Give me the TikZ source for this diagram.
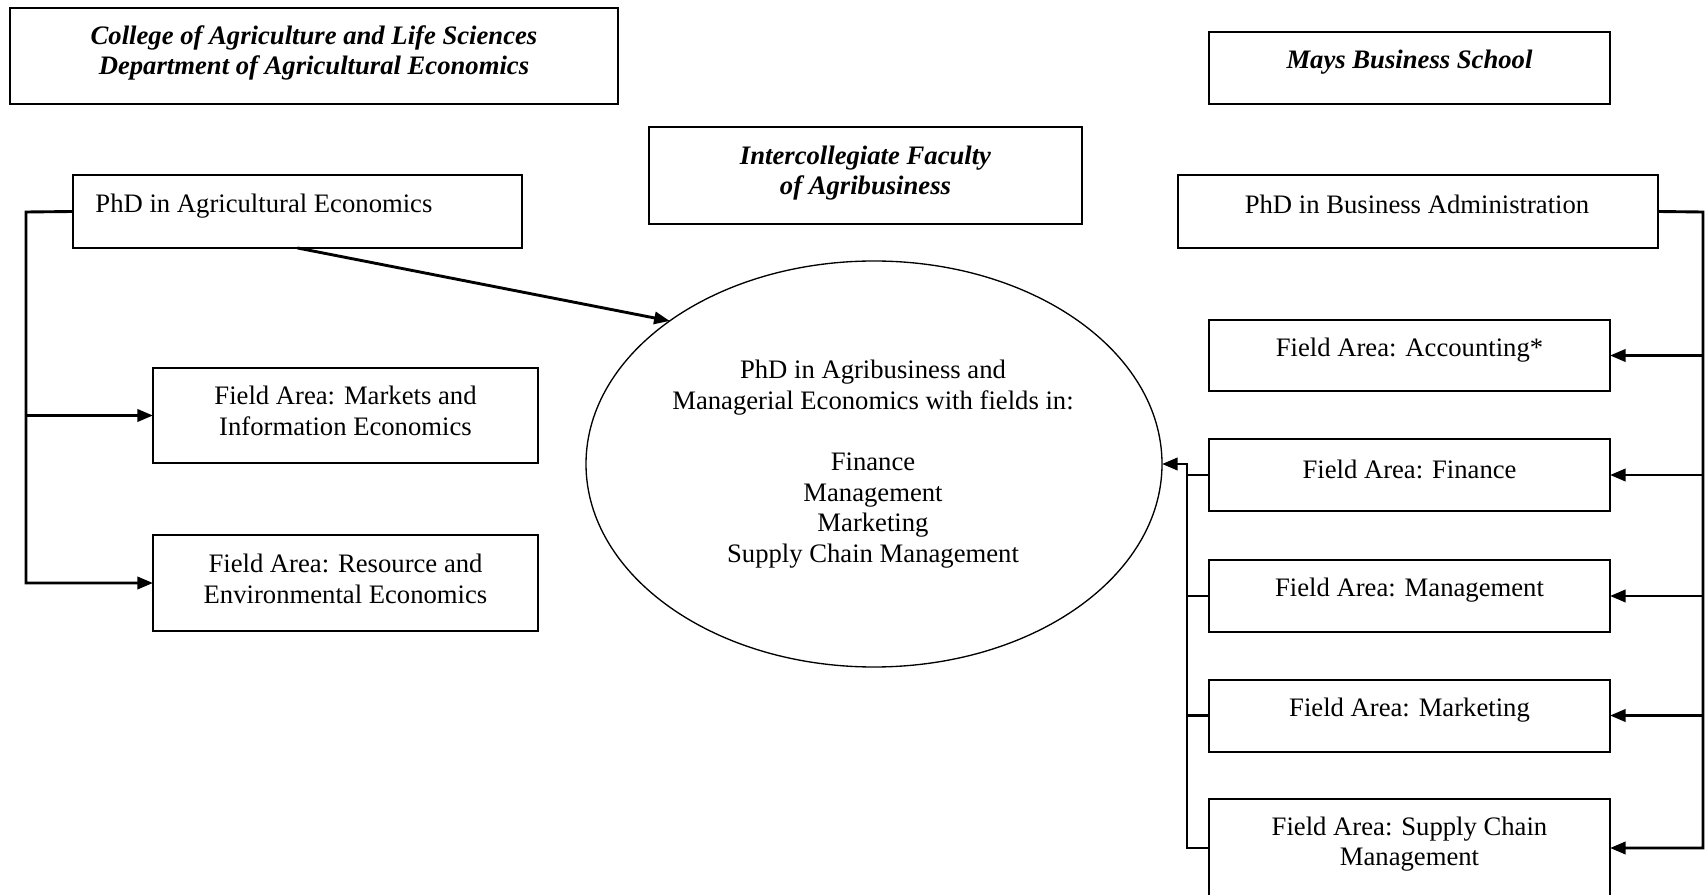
\documentclass[tikz,border=0pt]{standalone}
\usepackage{fontspec}
\setmainfont{Liberation Serif}
\usetikzlibrary{arrows.meta,shapes.geometric}
\tikzset{
  box/.style={draw, line width=0.9pt, inner sep=0pt, outer sep=0pt},
  oval/.style={draw, ellipse, line width=0.6pt, inner sep=0pt, outer sep=0pt},
  txt/.style={font=\fontsize{12}{13.8}\selectfont, inner sep=0pt, align=center},
  head/.style={txt, font=\fontsize{12}{13.8}\selectfont\bfseries\itshape},
  conn/.style={line width=1.3pt},
  arr/.style={conn, -{Triangle[length=7pt,width=5.5pt]}}
}
\begin{document}
\begin{tikzpicture}[x=0.45pt, y=-0.45pt]
\useasboundingbox (0,0) rectangle (1705,895);
% header boxes
\node[box, minimum width=608*0.45pt, minimum height=96*0.45pt] (college) at (314,56) {};
\node[head] (tcollege) at (314,53) {College of Agriculture and Life Sciences\\Department of Agricultural Economics};
\node[box, minimum width=401*0.45pt, minimum height=72*0.45pt] (mays) at (1409.5,68) {};
\node[head] (tmays) at (1409.5,62) {Mays Business School};
\node[box, minimum width=433*0.45pt, minimum height=97*0.45pt] (inter) at (865.5,175.5) {};
\node[head] (tinter) at (865.5,173) {Intercollegiate Faculty\\of Agribusiness};
% left side
\node[box, minimum width=449*0.45pt, minimum height=73*0.45pt] (agphd) at (297.5,211.5) {};
\node[txt, anchor=west] (tagphd) at (95,206) {PhD in Agricultural Economics};
\node[box, minimum width=385*0.45pt, minimum height=95*0.45pt] (mkt) at (345.5,415.5) {};
\node[txt] (tmkt) at (345.5,411) {Field Area: Markets and\\Information Economics};
\node[box, minimum width=385*0.45pt, minimum height=96*0.45pt] (res) at (345.5,583) {};
\node[txt] (tres) at (345.5,579) {Field Area: Resource and\\Environmental Economics};
% ellipse
\node[oval, minimum width=576*0.45pt, minimum height=406*0.45pt] (ell) at (874,464) {};
\node[txt] (tell) at (873,464) {PhD in Agribusiness and\\Managerial Economics with fields in:\\[13.8pt]Finance\\Management\\Marketing\\Supply Chain Management};
% right side
\node[box, minimum width=480*0.45pt, minimum height=73*0.45pt] (baphd) at (1418,211.5) {};
\node[txt] (tbaphd) at (1417,204) {PhD in Business Administration};
\node[box, minimum width=401*0.45pt, minimum height=71*0.45pt] (acc) at (1409.5,355.5) {};
\node[txt] (tacc) at (1409.5,350) {Field Area: Accounting*};
\node[box, minimum width=401*0.45pt, minimum height=72*0.45pt] (fin) at (1409.5,475) {};
\node[txt] (tfin) at (1409.5,469) {Field Area: Finance};
\node[box, minimum width=401*0.45pt, minimum height=72*0.45pt] (man) at (1409.5,596) {};
\node[txt] (tman) at (1409.5,590) {Field Area: Management};
\node[box, minimum width=401*0.45pt, minimum height=72*0.45pt] (mar) at (1409.5,715.5) {};
\node[txt] (tmar) at (1409.5,710) {Field Area: Marketing};
\node[box, minimum width=401*0.45pt, minimum height=98*0.45pt] (sup) at (1409.5,848) {};
\node[txt] (tsup) at (1409.5,844) {Field Area: Supply Chain\\Management};
% left connectors
\coordinate (lc) at (26,212);
\draw[arr] (agphd.west) -- (lc) |- (res.west);
\draw[arr] (lc |- mkt.west) -- (mkt.west);
\draw[arr] (agphd.south) -- (ell.145);
% right connectors
\coordinate (rc) at (1703,212);
\draw[arr] (baphd.east) -- (rc) |- (sup.east);
\draw[arr] (rc |- acc.east) -- (acc.east);
\draw[arr] (rc |- fin.east) -- (fin.east);
\draw[arr] (rc |- man.east) -- (man.east);
\draw[arr] (rc |- mar.east) -- (mar.east);
% fields into ellipse
\coordinate (mc) at (1187,464);
\draw[arr] (sup.west) -| (mc) -- (ell.east);
\draw[conn] (fin.west) -- (mc |- fin.west);
\draw[conn] (man.west) -- (mc |- man.west);
\draw[conn] (mar.west) -- (mc |- mar.west);
\end{tikzpicture}
\end{document}
